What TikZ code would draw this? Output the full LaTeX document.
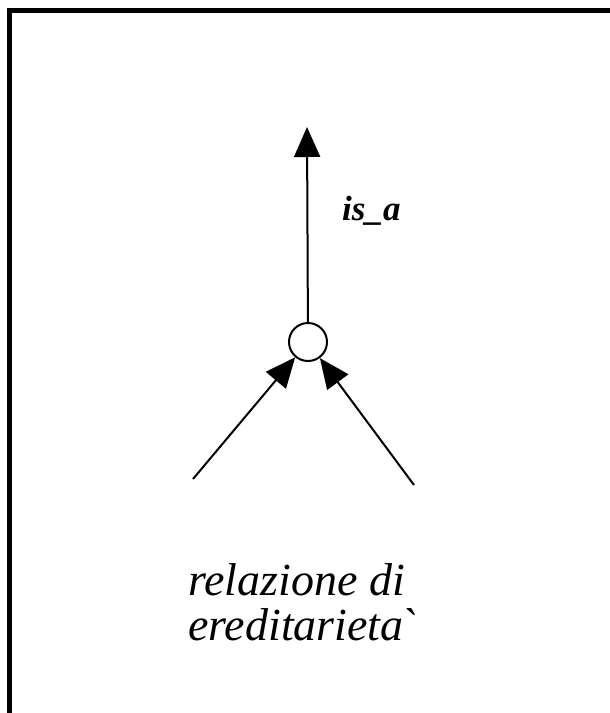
\documentclass[tikz,border=0pt]{standalone}
\usepackage{fontspec}
\setmainfont{Liberation Serif}
\newfontfamily\capserif{Liberation Serif}[Ligatures=NoCommon]
\usetikzlibrary{arrows.meta}
\begin{document}
\begin{tikzpicture}[x=1pt,y=-1pt,
  conn/.style={line width=2pt,-{Triangle[length=30pt,width=26pt]}},
  junction/.style={circle,draw,line width=2pt,minimum size=38pt,inner sep=0pt,fill=white},
  relabel/.style={font=\bfseries\itshape\fontsize{35}{38}\selectfont,inner sep=0pt},
  caption/.style={font=\capserif\itshape\fontsize{46}{45}\selectfont,inner sep=0pt}]
\useasboundingbox (0,0) rectangle (610,713);
\clip (0,0) rectangle (610,713);
\draw[line width=5pt] (9.5,730) -- (9.5,10.5) -- (630,10.5);
\node[junction] (c) at (308,342) {};
\coordinate (top) at (307,127);
\coordinate (la) at (193,479);
\coordinate (ra) at (414,485);
\draw[conn] (c) -- (top);
\draw[conn] (la) -- (c);
\draw[conn] (ra) -- (c);
\node[relabel,anchor=base west] (isa) at (342,220) {is\_a};
\node[caption,anchor=base west] (cap1) at (188,595) {relazione di};
\node[caption,anchor=base west] (cap2) at (188,640) {ereditarieta\symbol{"02CB}};
\end{tikzpicture}
\end{document}
